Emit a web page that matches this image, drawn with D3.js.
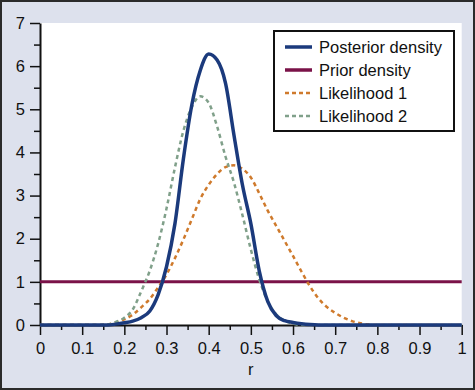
<!DOCTYPE html>
<html>
<head>
<meta charset="utf-8">
<script src="https://cdn.jsdelivr.net/npm/d3@7"></script>
<style>
  body { margin: 0; background: #fff; }
  svg { display: block; font-family: "Liberation Sans", Arial, sans-serif; }
</style>
</head>
<body>
<div id="chart"></div>
<script>
// r grid the curves were read at
const rValues = [
  0, 0.02, 0.04, 0.06, 0.08, 0.1, 0.12, 0.14, 0.16, 0.18,
  0.2, 0.22, 0.24, 0.26, 0.28, 0.3, 0.32, 0.34, 0.36, 0.38,
  0.4, 0.42, 0.44, 0.46, 0.48, 0.5, 0.52, 0.54, 0.56, 0.58,
  0.6, 0.62, 0.64, 0.66, 0.68, 0.7, 0.72, 0.74, 0.76, 0.78,
  0.8, 0.82, 0.84, 0.86, 0.88, 0.9, 0.92, 0.94, 0.96, 0.98, 1
];
const posterior = [
  0, 0, 0, 0, 0, 0, 0, 0, 0, 0.02,
  0.05, 0.09, 0.17, 0.32, 0.7, 1.35, 2.35, 3.85, 5.1, 5.9,
  6.28, 6.14, 5.6, 4.4, 3.25, 2.35, 1.25, 0.55, 0.22, 0.1,
  0.06, 0.03, 0.01, 0, 0, 0, 0, 0, 0, 0,
  0, 0, 0, 0, 0, 0, 0, 0, 0, 0, 0
];
const likelihood1 = [
  0, 0, 0, 0, 0, 0, 0, 0, 0.01, 0.06,
  0.13, 0.24, 0.41, 0.6, 0.87, 1.17, 1.55, 1.98, 2.45, 2.92,
  3.25, 3.5, 3.66, 3.7, 3.62, 3.42, 3.05, 2.65, 2.3, 1.95,
  1.6, 1.24, 0.9, 0.62, 0.42, 0.28, 0.17, 0.09, 0.04, 0.01,
  0, 0, 0, 0, 0, 0, 0, 0, 0, 0, 0
];
const likelihood2 = [
  0, 0, 0, 0, 0, 0, 0, 0, 0.01, 0.07,
  0.17, 0.36, 0.78, 1.25, 1.88, 2.7, 3.65, 4.5, 5.05, 5.3,
  5.15, 4.6, 3.9, 3.3, 2.55, 1.75, 1.05, 0.55, 0.25, 0.1,
  0.03, 0, 0, 0, 0, 0, 0, 0, 0, 0,
  0, 0, 0, 0, 0, 0, 0, 0, 0, 0, 0
];
const priorR = [0, 1];
const prior = [1, 1];

const seriesNames = ["Posterior density", "Prior density", "Likelihood 1", "Likelihood 2"];
const xTicks = [0, 0.1, 0.2, 0.3, 0.4, 0.5, 0.6, 0.7, 0.8, 0.9, 1];
const xTickLabels = ["0", "0.1", "0.2", "0.3", "0.4", "0.5", "0.6", "0.7", "0.8", "0.9", "1"];
const xMinorTicks = [0.05, 0.15, 0.25, 0.35, 0.45, 0.55, 0.65, 0.75, 0.85, 0.95];
const yTicks = [0, 1, 2, 3, 4, 5, 6, 7];
const yTickLabels = ["0", "1", "2", "3", "4", "5", "6", "7"];
const yMinorTicks = [0.5, 1.5, 2.5, 3.5, 4.5, 5.5, 6.5];

const width = 475;
const height = 390;
const margin = { top: 23, left: 40, right: 13.3, bottom: 65 };
const innerW = width - margin.left - margin.right;
const innerH = height - margin.top - margin.bottom;

const colors = {
  post: "#1b3a7c",
  prior: "#7a1248",
  lik1: "#cf7a2c",
  lik2: "#80a08a"
};

const svg = d3
  .select("#chart")
  .append("svg")
  .attr("width", width)
  .attr("height", height);

// grey page with dark frame
svg
  .append("rect")
  .attr("x", 1)
  .attr("y", 1)
  .attr("width", width - 2)
  .attr("height", height - 2)
  .attr("fill", "#dde1ed")
  .attr("stroke", "#2b2b2b")
  .attr("stroke-width", 2);

const g = svg.append("g").attr("transform", `translate(${margin.left},${margin.top})`);

g.append("rect").attr("width", innerW).attr("height", innerH).attr("fill", "#fff");

const x = d3.scaleLinear().domain([0, 1]).range([0, innerW]);
const y = d3.scaleLinear().domain([0, 7]).range([innerH, 0]);

// minor ticks first, then major axes with labels
g.append("g")
  .attr("transform", `translate(0,${innerH})`)
  .call(d3.axisBottom(x).tickValues(xMinorTicks).tickSize(5).tickSizeOuter(0).tickFormat(""))
  .call((a) => a.select(".domain").remove());
g.append("g")
  .call(d3.axisLeft(y).tickValues(yMinorTicks).tickSize(6).tickSizeOuter(0).tickFormat(""))
  .call((a) => a.select(".domain").remove());

const xAxis = g
  .append("g")
  .attr("transform", `translate(0,${innerH})`)
  .call(
    d3
      .axisBottom(x)
      .tickValues(xTicks)
      .tickSize(10)
      .tickPadding(7)
      .tickSizeOuter(0)
      .tickFormat((d, i) => xTickLabels[i])
  );
const yAxis = g
  .append("g")
  .call(
    d3
      .axisLeft(y)
      .tickValues(yTicks)
      .tickSize(10)
      .tickPadding(5)
      .tickSizeOuter(0)
      .tickFormat((d, i) => yTickLabels[i])
  );

g.selectAll(".tick line").attr("stroke", "#111").attr("stroke-width", 1.5);
for (const a of [xAxis, yAxis]) {
  a.select(".domain").attr("stroke", "#111").attr("stroke-width", 2);
  a.selectAll("text")
    .attr("fill", "#111")
    .style("font-size", "16.5px")
    .style("font-family", '"Liberation Sans", Arial, sans-serif');
}

g.append("text")
  .attr("x", x(0.5))
  .attr("y", innerH + 50)
  .attr("text-anchor", "middle")
  .attr("fill", "#111")
  .style("font-size", "16.5px")
  .text("r");

// curves
const line = d3
  .line()
  .x((d) => x(d[0]))
  .y((d) => y(d[1]))
  .curve(d3.curveMonotoneX);

const series = [
  { name: seriesNames[1], r: priorR, v: prior, color: colors.prior, w: 3, dash: null },
  { name: seriesNames[2], r: rValues, v: likelihood1, color: colors.lik1, w: 2.5, dash: "4,3.5" },
  { name: seriesNames[3], r: rValues, v: likelihood2, color: colors.lik2, w: 2.5, dash: "4,3.5" },
  { name: seriesNames[0], r: rValues, v: posterior, color: colors.post, w: 3.5, dash: null }
];

g.selectAll("path.curve")
  .data(series)
  .enter()
  .append("path")
  .attr("class", "curve")
  .attr("d", (s) => line(s.r.map((r, i) => [r, s.v[i]])))
  .attr("fill", "none")
  .attr("stroke", (s) => s.color)
  .attr("stroke-width", (s) => s.w)
  .attr("stroke-dasharray", (s) => s.dash);

// legend
const legendItems = [
  { name: seriesNames[0], color: colors.post, w: 3.5, dash: null },
  { name: seriesNames[1], color: colors.prior, w: 3.5, dash: null },
  { name: seriesNames[2], color: colors.lik1, w: 2.5, dash: "4,3" },
  { name: seriesNames[3], color: colors.lik2, w: 2.5, dash: "4,3" }
];

const legend = svg.append("g").attr("transform", "translate(274,31)");
legend
  .append("rect")
  .attr("width", 180)
  .attr("height", 100)
  .attr("fill", "#fff")
  .attr("stroke", "#111")
  .attr("stroke-width", 2);

const rows = legend
  .selectAll("g.row")
  .data(legendItems)
  .enter()
  .append("g")
  .attr("class", "row")
  .attr("transform", (d, i) => `translate(0,${16 + i * 23})`);

rows
  .append("line")
  .attr("x1", 11)
  .attr("x2", 38)
  .attr("stroke", (d) => d.color)
  .attr("stroke-width", (d) => d.w)
  .attr("stroke-dasharray", (d) => d.dash);

rows
  .append("text")
  .attr("x", 45)
  .attr("y", 6)
  .attr("fill", "#111")
  .style("font-size", "16.5px")
  .text((d) => d.name);
</script>
</body>
</html>
